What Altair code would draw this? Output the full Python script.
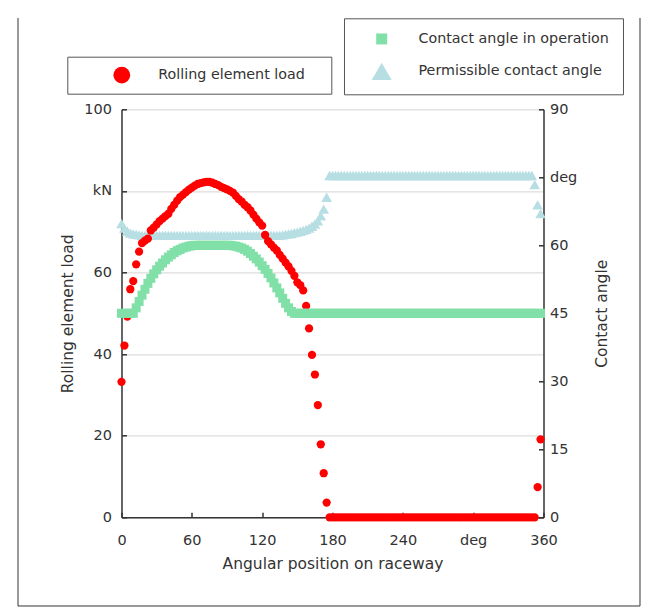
import altair as alt
import pandas as pd

# ---------------- data ----------------
ANGLE = [
    0, 2.5, 5, 7.5, 10, 12.5, 15, 17.5, 20, 22.5, 25, 27.5,
    30, 32.5, 35, 37.5, 40, 42.5, 45, 47.5, 50, 52.5, 55, 57.5,
    60, 62.5, 65, 67.5, 70, 72.5, 75, 77.5, 80, 82.5, 85, 87.5,
    90, 92.5, 95, 97.5, 100, 102.5, 105, 107.5, 110, 112.5, 115, 117.5,
    120, 122.5, 125, 127.5, 130, 132.5, 135, 137.5, 140, 142.5, 145, 147.5,
    150, 152.5, 155, 157.5, 160, 162.5, 165, 167.5, 170, 172.5, 175, 177.5,
    180, 182.5, 185, 187.5, 190, 192.5, 195, 197.5, 200, 202.5, 205, 207.5,
    210, 212.5, 215, 217.5, 220, 222.5, 225, 227.5, 230, 232.5, 235, 237.5,
    240, 242.5, 245, 247.5, 250, 252.5, 255, 257.5, 260, 262.5, 265, 267.5,
    270, 272.5, 275, 277.5, 280, 282.5, 285, 287.5, 290, 292.5, 295, 297.5,
    300, 302.5, 305, 307.5, 310, 312.5, 315, 317.5, 320, 322.5, 325, 327.5,
    330, 332.5, 335, 337.5, 340, 342.5, 345, 347.5, 350, 352.5, 355, 357.5,
]

LOAD = [
    33.2, 42.1, 49.2, 55.9, 57.9, 62.0, 65.1, 67.2, 67.8, 68.3, 70.3, 71.0,
    71.8, 72.6, 73.2, 73.8, 74.4, 75.6, 76.6, 77.6, 78.5, 79.1, 79.7, 80.3,
    80.8, 81.3, 81.7, 81.9, 82.1, 82.2, 82.2, 82.0, 81.7, 81.4, 81.0, 80.7,
    80.4, 80.0, 79.6, 78.8, 78.0, 77.4, 76.6, 76.0, 75.2, 74.2, 73.2, 72.3,
    71.5, 69.2, 67.7, 66.9, 66.1, 65.4, 64.3, 63.4, 62.4, 61.5, 60.4, 59.2,
    57.6, 56.9, 55.6, 51.8, 46.3, 39.8, 35.0, 27.5, 17.9, 10.8, 3.6, 0,
    0, 0, 0, 0, 0, 0, 0, 0, 0, 0, 0, 0,
    0, 0, 0, 0, 0, 0, 0, 0, 0, 0, 0, 0,
    0, 0, 0, 0, 0, 0, 0, 0, 0, 0, 0, 0,
    0, 0, 0, 0, 0, 0, 0, 0, 0, 0, 0, 0,
    0, 0, 0, 0, 0, 0, 0, 0, 0, 0, 0, 0,
    0, 0, 0, 0, 0, 0, 0, 0, 0, 0, 7.4, 19.1,
]

ANGLE_OP = [
    45, 45, 45, 45, 45, 46.2, 47.6, 49.0, 50.3, 51.6, 52.7, 53.7,
    54.6, 55.4, 56.1, 56.8, 57.4, 57.9, 58.4, 58.8, 59.1, 59.4, 59.6, 59.8,
    59.9, 60, 60, 60, 60, 60, 60, 60, 60, 60, 60, 60,
    60, 60, 59.9, 59.8, 59.6, 59.4, 59.1, 58.7, 58.2, 57.6, 57.0, 56.3,
    55.5, 54.7, 53.8, 52.8, 51.7, 50.6, 49.5, 48.3, 47.2, 46.2, 45.4, 45,
    45, 45, 45, 45, 45, 45, 45, 45, 45, 45, 45, 45,
    45, 45, 45, 45, 45, 45, 45, 45, 45, 45, 45, 45,
    45, 45, 45, 45, 45, 45, 45, 45, 45, 45, 45, 45,
    45, 45, 45, 45, 45, 45, 45, 45, 45, 45, 45, 45,
    45, 45, 45, 45, 45, 45, 45, 45, 45, 45, 45, 45,
    45, 45, 45, 45, 45, 45, 45, 45, 45, 45, 45, 45,
    45, 45, 45, 45, 45, 45, 45, 45, 45, 45, 45, 45,
]

ANGLE_PERM = [
    64.8, 63.8, 63.1, 62.7, 62.5, 62.4, 62.3, 62.2, 62.2, 62.2, 62.2, 62.2,
    62.2, 62.2, 62.2, 62.2, 62.2, 62.2, 62.2, 62.2, 62.2, 62.2, 62.2, 62.2,
    62.2, 62.2, 62.2, 62.2, 62.2, 62.2, 62.2, 62.2, 62.2, 62.2, 62.2, 62.2,
    62.2, 62.2, 62.2, 62.2, 62.2, 62.2, 62.2, 62.2, 62.2, 62.2, 62.2, 62.2,
    62.2, 62.2, 62.2, 62.2, 62.2, 62.2, 62.2, 62.3, 62.4, 62.5, 62.6, 62.8,
    62.9, 63.1, 63.3, 63.5, 63.8, 64.2, 64.7, 65.4, 66.5, 68.0, 70.6, 75.4,
    75.4, 75.4, 75.4, 75.4, 75.4, 75.4, 75.4, 75.4, 75.4, 75.4, 75.4, 75.4,
    75.4, 75.4, 75.4, 75.4, 75.4, 75.4, 75.4, 75.4, 75.4, 75.4, 75.4, 75.4,
    75.4, 75.4, 75.4, 75.4, 75.4, 75.4, 75.4, 75.4, 75.4, 75.4, 75.4, 75.4,
    75.4, 75.4, 75.4, 75.4, 75.4, 75.4, 75.4, 75.4, 75.4, 75.4, 75.4, 75.4,
    75.4, 75.4, 75.4, 75.4, 75.4, 75.4, 75.4, 75.4, 75.4, 75.4, 75.4, 75.4,
    75.4, 75.4, 75.4, 75.4, 75.4, 75.4, 75.4, 75.4, 75.4, 73.4, 68.9, 67.0,
]

S_LOAD = "Rolling element load"
S_OP = "Contact angle in operation"
S_PERM = "Permissible contact angle"

X_TICKS = [0, 60, 120, 180, 240, 300, 360]
Y_LEFT_TICKS = [0, 20, 40, 60, 80, 100]
Y_RIGHT_TICKS = [0, 15, 30, 45, 60, 75, 90]

# ---------------- styling ----------------
W, H = 422, 408
FONT = "DejaVu Sans"
TXT = "#333333"
AXC = "#333333"
RED = "#ff0000"
GREEN = "#80e0a8"
BLUE = "#b7dfe3"

red_df = pd.DataFrame({"angle": ANGLE, "value": LOAD, "series": S_LOAD})
op_df = pd.DataFrame({"angle": ANGLE, "value": ANGLE_OP, "series": S_OP})
perm_df = pd.DataFrame({"angle": ANGLE, "value": ANGLE_PERM, "series": S_PERM})

x_scale = alt.Scale(domain=[0, 360], nice=False, zero=False)
yl_scale = alt.Scale(domain=[0, 100], nice=False)
yr_scale = alt.Scale(domain=[0, 90], nice=False)

color_scale = alt.Scale(domain=[S_OP, S_PERM], range=[GREEN, BLUE])
shape_scale = alt.Scale(domain=[S_OP, S_PERM], range=["square", "triangle-up"])
size_scale = alt.Scale(domain=[S_OP, S_PERM], range=[121, 400])

# legend 1: an invisible title on the right side widens the box to match
legend1 = alt.Legend(
    orient="none", legendX=-54.2, legendY=-52.6,
    title="M", titleOrient="right", titleOpacity=0, titleFontSize=14,
    titlePadding=2, titleFont=FONT,
    strokeColor="#555555", fillColor="white", padding=10,
    symbolSize=280, symbolType="circle", symbolOffset=36, labelOffset=28,
    symbolStrokeWidth=0, labelFont=FONT, labelFontSize=14.3, labelColor=TXT,
    labelLimit=400,
)

legend2 = alt.Legend(
    orient="none", legendX=222.5, legendY=-91, title=None,
    strokeColor="#555555", fillColor="white", padding=13.5, rowPadding=14.5,
    symbolOffset=14.2, labelOffset=26.8, symbolStrokeWidth=0,
    labelFont=FONT, labelFontSize=14.3, labelColor=TXT, labelLimit=400,
)

inward = dict(labels=False, domain=False, ticks=True, tickSize=5,
              tickColor=AXC, tickWidth=1.5, grid=False, title=None)

# outer frame (decoration)
frame_src = pd.DataFrame({"k": [0]})
frame_left = alt.Chart(frame_src).mark_rule(color="#333333", strokeWidth=1).encode(
    x=alt.value(-103.5), y=alt.value(-91.3), y2=alt.value(496.7))
frame_right = alt.Chart(frame_src).mark_rule(color="#333333", strokeWidth=1).encode(
    x=alt.value(518.5), y=alt.value(-91.3), y2=alt.value(496.7))
frame_bottom = alt.Chart(frame_src).mark_rule(color="#333333", strokeWidth=1).encode(
    x=alt.value(-103.5), x2=alt.value(518.5), y=alt.value(496.7))

# permissible contact angle (right scale) - drawn first
blue = alt.Chart(perm_df).mark_point(filled=True, size=115, opacity=1).encode(
    x=alt.X("angle:Q", scale=x_scale, axis=None),
    y=alt.Y("value:Q", scale=yr_scale,
            axis=alt.Axis(orient="left", offset=-W, values=Y_RIGHT_TICKS, **inward)),
    color=alt.Color("series:N", scale=color_scale, legend=legend2),
    shape=alt.Shape("series:N", scale=shape_scale, legend=legend2),
)

# rolling element load (left scale)
red = alt.Chart(red_df).mark_point(filled=True, size=68, opacity=1, shape="circle").encode(
    x=alt.X("angle:Q", scale=x_scale,
            axis=alt.Axis(orient="bottom", values=X_TICKS,
                          labelExpr="datum.value == 300 ? 'deg' : datum.label",
                          title="Angular position on raceway", grid=False,
                          ticks=False, tickSize=0, domainColor=AXC, domainWidth=1.5,
                          labelPadding=16, titlePadding=10, labelFlush=False)),
    y=alt.Y("value:Q", scale=yl_scale,
            axis=alt.Axis(orient="left", values=Y_LEFT_TICKS,
                          labelExpr="datum.value == 80 ? 'kN' : datum.label",
                          title=S_LOAD, grid=True, gridColor="#dddddd", gridWidth=1.2,
                          ticks=False, tickSize=0, domainColor=AXC, domainWidth=1.5,
                          labelPadding=10, titlePadding=8)),
    fill=alt.Fill("series:N", scale=alt.Scale(domain=[S_LOAD], range=[RED]),
                  legend=legend1),
)

# contact angle in operation (right scale) - drawn on top
green = alt.Chart(op_df).mark_point(filled=True, size=81, opacity=1).encode(
    x=alt.X("angle:Q", scale=x_scale, axis=None),
    y=alt.Y("value:Q", scale=yr_scale,
            axis=alt.Axis(orient="right", values=Y_RIGHT_TICKS,
                          labelExpr="datum.value == 75 ? 'deg' : datum.label",
                          title="Contact angle", titleAngle=270, grid=False,
                          ticks=False, tickSize=0, domainColor=AXC, domainWidth=1.5,
                          labelPadding=6, titlePadding=33)),
    color=alt.Color("series:N", scale=color_scale, legend=legend2),
    shape=alt.Shape("series:N", scale=shape_scale, legend=legend2),
)

# legend symbol sizes only (no data drawn)
legend_sizes = alt.Chart(pd.concat([op_df, perm_df])).transform_filter("false").mark_point(
    filled=True, opacity=1).encode(
    color=alt.Color("series:N", scale=color_scale, legend=legend2),
    shape=alt.Shape("series:N", scale=shape_scale, legend=legend2),
    size=alt.Size("series:N", scale=size_scale, legend=legend2),
)

# inward ticks on bottom and left edges
tick_helper = alt.Chart(red_df).mark_point(opacity=0).encode(
    x=alt.X("angle:Q", scale=x_scale,
            axis=alt.Axis(orient="top", offset=-H, values=X_TICKS, **inward)),
    y=alt.Y("value:Q", scale=yl_scale,
            axis=alt.Axis(orient="right", offset=-W, values=Y_LEFT_TICKS, **inward)),
)

chart = (
    alt.layer(frame_left, frame_right, frame_bottom, blue, red, green,
              legend_sizes, tick_helper)
    .resolve_scale(y="independent")
    .properties(
        width=W, height=H,
        autosize=alt.AutoSizeParams(type="none"),
        padding={"left": 113.5, "top": 101.3, "right": 100, "bottom": 92},
    )
    .configure_view(stroke=None)
    .configure_axis(labelFont=FONT, titleFont=FONT, labelColor=TXT, titleColor=TXT,
                    labelFontSize=14.5, titleFontSize=15.5, titleFontWeight="normal")
)

chart.save("out.html", embed_options={"renderer": "svg", "actions": False})
